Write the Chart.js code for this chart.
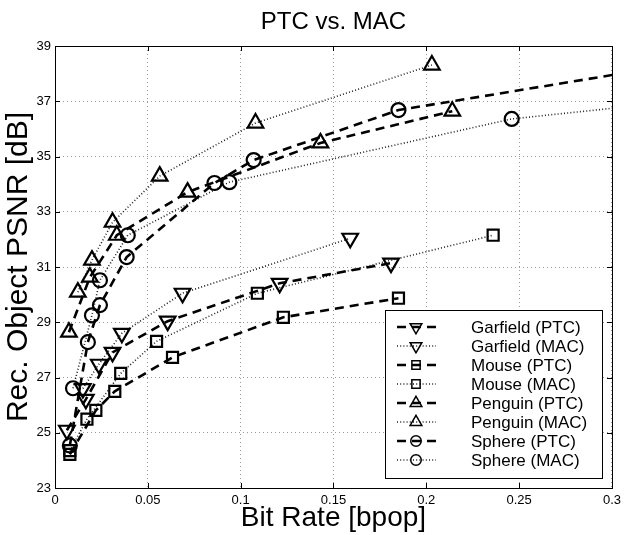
<!DOCTYPE html>
<html>
<head>
<meta charset="utf-8">
<title>PTC vs. MAC</title>
<script src="https://cdn.jsdelivr.net/npm/chart.js@4.4.1/dist/chart.umd.min.js"></script>
<style>
  html, body { margin: 0; padding: 0; background: #fff; }
  #wrap { width: 626px; height: 535px; }
</style>
</head>
<body>
<div id="wrap"><canvas id="psnrChart" width="626" height="535" style="width:626px;height:535px"></canvas></div>
<script>
// values (bit rate in bpop, PSNR in dB)
const garfieldPtcRate = [0.0064, 0.0166, 0.031, 0.0607, 0.121, 0.181];
const garfieldPtcPsnr = [25.09, 26.21, 27.91, 29.04, 30.41, 31.14];
const garfieldMacRate = [0.015, 0.0236, 0.036, 0.0687, 0.159];
const garfieldMacPsnr = [26.6, 27.48, 28.6, 30.05, 32.04];
const mousePtcRate = [0.008, 0.022, 0.0322, 0.0633, 0.123, 0.185];
const mousePtcPsnr = [24.22, 25.81, 26.5, 27.73, 29.18, 29.87];
const mouseMacRate = [0.008, 0.0172, 0.0354, 0.0547, 0.109, 0.236];
const mouseMacPsnr = [24.35, 25.49, 27.15, 28.31, 30.05, 32.15];
const penguinPtcRate = [0.0075, 0.0188, 0.0333, 0.0714, 0.143, 0.214];
const penguinPtcPsnr = [28.64, 30.63, 32.15, 33.71, 35.49, 36.64];
const penguinMacRate = [0.0123, 0.0199, 0.031, 0.0564, 0.108, 0.203];
const penguinMacPsnr = [30.09, 31.25, 32.62, 34.29, 36.21, 38.31];
const spherePtcRate = [0.008, 0.0177, 0.0242, 0.0386, 0.0859, 0.107, 0.185, 0.35];
const spherePtcPsnr = [24.54, 28.28, 29.62, 31.36, 34.04, 34.87, 36.68, 38.5];
const sphereMacRate = [0.0097, 0.0199, 0.0242, 0.0392, 0.0939, 0.246, 0.35];
const sphereMacPsnr = [26.61, 29.25, 30.52, 32.15, 34.07, 36.36, 37.1];

const seriesLabels = ['Garfield (PTC)', 'Garfield (MAC)', 'Mouse (PTC)', 'Mouse (MAC)',
  'Penguin (PTC)', 'Penguin (MAC)', 'Sphere (PTC)', 'Sphere (MAC)'];
const xTicks = [0, 0.05, 0.1, 0.15, 0.2, 0.25, 0.3];
const yTicks = [23, 25, 27, 29, 31, 33, 35, 37, 39];

const FONT = "'Liberation Sans', Arial, Helvetica, sans-serif";

function toPoints(xs, ys) {
  return xs.map((x, i) => ({ x: x, y: ys[i] }));
}

const dashed = { borderDash: [9, 6], borderWidth: 2.6, borderColor: '#000' };
const dotted = { borderDash: [1, 2.2], borderWidth: 1.6, borderColor: '#222' };

function makeSet(label, xs, ys, style, shape, rot, radius) {
  return Object.assign({
    label: label,
    data: toPoints(xs, ys),
    pointStyle: shape,
    pointRotation: rot,
    pointRadius: radius,
    pointBorderWidth: 2.2,
    pointBorderColor: '#000',
    pointBackgroundColor: 'rgba(0,0,0,0)',
    backgroundColor: 'rgba(0,0,0,0)',
    fill: false,
    tension: 0
  }, style);
}

const datasets = [
  makeSet(seriesLabels[0], garfieldPtcRate, garfieldPtcPsnr, dashed, 'triangle', 180, 9),
  makeSet(seriesLabels[1], garfieldMacRate, garfieldMacPsnr, dotted, 'triangle', 180, 9),
  makeSet(seriesLabels[2], mousePtcRate, mousePtcPsnr, dashed, 'rect', 0, 7.8),
  makeSet(seriesLabels[3], mouseMacRate, mouseMacPsnr, dotted, 'rect', 0, 7.8),
  makeSet(seriesLabels[4], penguinPtcRate, penguinPtcPsnr, dashed, 'triangle', 0, 9),
  makeSet(seriesLabels[5], penguinMacRate, penguinMacPsnr, dotted, 'triangle', 0, 9),
  makeSet(seriesLabels[6], spherePtcRate, spherePtcPsnr, dashed, 'circle', 0, 7),
  makeSet(seriesLabels[7], sphereMacRate, sphereMacPsnr, dotted, 'circle', 0, 7)
];

// marker path, same geometry as Chart.js point styles
function markerPath(ctx, shape, rot, x, y, r) {
  ctx.beginPath();
  if (shape === 'circle') {
    ctx.arc(x, y, r, 0, Math.PI * 2);
  } else if (shape === 'rect') {
    const s = Math.SQRT1_2 * r;
    ctx.rect(x - s, y - s, 2 * s, 2 * s);
  } else {
    let a = rot * Math.PI / 180;
    ctx.moveTo(x + Math.sin(a) * r, y - Math.cos(a) * r);
    a += Math.PI * 2 / 3;
    ctx.lineTo(x + Math.sin(a) * r, y - Math.cos(a) * r);
    a += Math.PI * 2 / 3;
    ctx.lineTo(x + Math.sin(a) * r, y - Math.cos(a) * r);
    ctx.closePath();
  }
}

// MATLAB style box with inward ticks, title centred over the axes
const axesBox = {
  id: 'axesBox',
  afterDatasetsDraw(chart) {
    const { ctx, chartArea: a, scales } = chart;
    ctx.save();
    ctx.strokeStyle = '#000';
    ctx.lineWidth = 1;
    ctx.setLineDash([]);
    ctx.strokeRect(Math.round(a.left) + 0.5, Math.round(a.top) + 0.5,
      Math.round(a.right - a.left), Math.round(a.bottom - a.top));
    ctx.beginPath();
    xTicks.forEach(v => {
      const px = Math.round(scales.x.getPixelForValue(v)) + 0.5;
      ctx.moveTo(px, a.bottom); ctx.lineTo(px, a.bottom - 5);
      ctx.moveTo(px, a.top); ctx.lineTo(px, a.top + 5);
    });
    yTicks.forEach(v => {
      const py = Math.round(scales.y.getPixelForValue(v)) + 0.5;
      ctx.moveTo(a.left, py); ctx.lineTo(a.left + 5, py);
      ctx.moveTo(a.right, py); ctx.lineTo(a.right - 5, py);
    });
    ctx.stroke();
    ctx.fillStyle = '#000';
    ctx.font = '24px ' + FONT;
    ctx.textAlign = 'center';
    ctx.textBaseline = 'middle';
    ctx.fillText('PTC vs. MAC', (a.left + a.right) / 2, 22);
    ctx.restore();
  }
};

// legend box inside the plot, lower right
const legendBox = {
  id: 'legendBox',
  afterDraw(chart) {
    const ctx = chart.ctx;
    const bx = 385, by = 310, bw = 217, bh = 168;
    ctx.save();
    ctx.fillStyle = '#fff';
    ctx.fillRect(bx, by, bw, bh);
    ctx.strokeStyle = '#000';
    ctx.lineWidth = 1;
    ctx.strokeRect(bx + 0.5, by + 0.5, bw, bh);
    ctx.font = '17px ' + FONT;
    ctx.textBaseline = 'middle';
    chart.data.datasets.forEach((ds, i) => {
      const y = 327 + i * 19;
      ctx.strokeStyle = ds.borderColor;
      ctx.lineWidth = ds.borderWidth;
      ctx.setLineDash(ds.borderDash);
      ctx.beginPath();
      ctx.moveTo(397, y);
      ctx.lineTo(436, y);
      ctx.stroke();
      ctx.setLineDash([]);
      ctx.lineWidth = 1.5;
      ctx.strokeStyle = '#000';
      markerPath(ctx, ds.pointStyle, ds.pointRotation, 416, y, ds.pointRadius * 0.75);
      ctx.stroke();
      ctx.fillStyle = '#000';
      ctx.fillText(ds.label, 471, y + 1);
    });
    ctx.restore();
  }
};

const ctx = document.getElementById('psnrChart').getContext('2d');
const psnrChart = new Chart(ctx, {
  type: 'line',
  data: { datasets: datasets },
  options: {
    responsive: false,
    animation: false,
    events: [],
    layout: { padding: { left: 0, right: 12, top: 46, bottom: 0 } },
    plugins: {
      legend: { display: false },
      tooltip: { enabled: false },
      title: { display: false }
    },
    scales: {
      x: {
        type: 'linear',
        min: 0,
        max: 0.3,
        afterFit: s => { s.height = 47; },
        afterBuildTicks: s => { s.ticks = xTicks.map(v => ({ value: v })); },
        ticks: {
          color: '#000',
          padding: 5,
          maxRotation: 0,
          font: { family: FONT, size: 13 },
          callback: v => String(Number(v.toFixed(2)))
        },
        grid: { color: '#999', lineWidth: 1, drawTicks: false },
        border: { display: false, dash: [1, 3] },
        title: {
          display: true,
          text: 'Bit Rate [bpop]',
          color: '#000',
          padding: 0,
          font: { family: FONT, size: 28 }
        }
      },
      y: {
        min: 23,
        max: 39,
        afterFit: s => { s.width = 55; },
        afterBuildTicks: s => { s.ticks = yTicks.map(v => ({ value: v })); },
        ticks: {
          color: '#000',
          padding: 4,
          font: { family: FONT, size: 13 }
        },
        grid: { color: '#999', lineWidth: 1, drawTicks: false },
        border: { display: false, dash: [1, 3] },
        title: {
          display: true,
          text: 'Rec. Object PSNR [dB]',
          color: '#000',
          padding: { top: 1, bottom: 0 },
          font: { family: FONT, size: 30 }
        }
      }
    }
  },
  plugins: [axesBox, legendBox]
});
</script>
</body>
</html>
